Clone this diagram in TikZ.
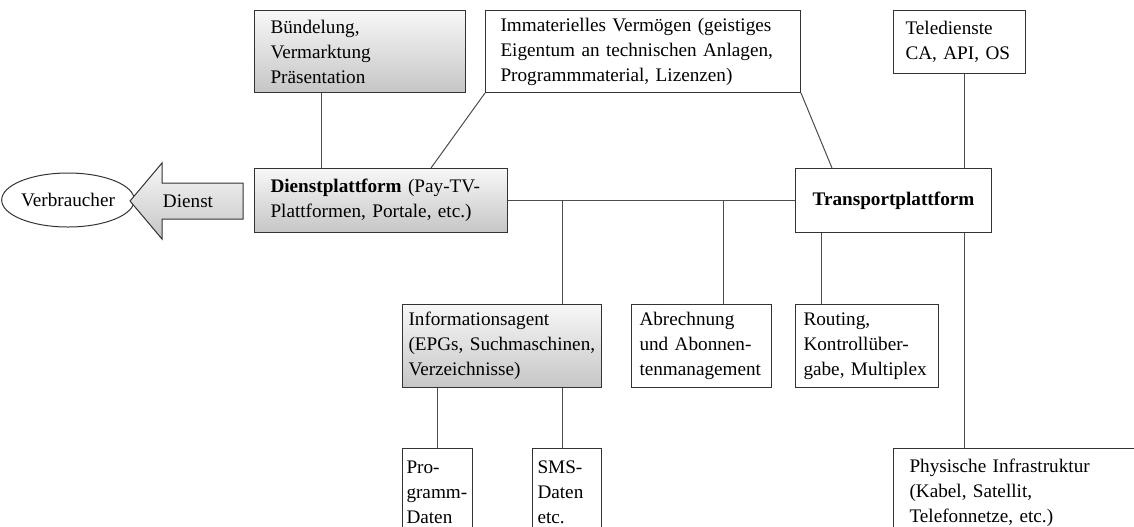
\documentclass[tikz,border=0pt]{standalone}
\usepackage{fontspec}
\setmainfont{Liberation Serif}
\usetikzlibrary{shapes.geometric}
\tikzset{
  box/.style={draw=black!80,line width=0.5pt,anchor=north west,align=left,inner ysep=0pt,font=\fontsize{9.6}{12.5}\selectfont},
  grau/.style={top color=gray!6,bottom color=gray!45},
  link/.style={draw=black!70,line width=0.5pt}
}
\begin{document}
\begin{tikzpicture}[x=0.5pt,y=-0.5pt]
\useasboundingbox (0,0) rectangle (1134,526);
\clip (0,0) rectangle (1134,526);
\coordinate (K1) at (321,0);
\coordinate (K2) at (431,0);
\coordinate (K3) at (562,0);
\coordinate (K4) at (723,0);
\coordinate (K5) at (821,0);
\coordinate (K6) at (832,0);
\coordinate (K7) at (964,0);
\node[box,grau,inner xsep=8pt,text width=89.5pt,minimum height=41pt] (buendel) at (254,10) {Bündelung,\\Vermarktung\\Präsentation};
\node[box,inner xsep=7.5pt,text width=142.5pt,minimum height=41pt] (immat) at (485,10) {Immaterielles Vermögen (geistiges\\Eigentum an technischen Anlagen,\\Programmmaterial, Lizenzen)};
\node[box,inner xsep=6pt,text width=54pt,minimum height=31.5pt] (tele) at (893,10) {Teledienste\\CA, API, OS};
\node[box,grau,inner xsep=8pt,text width=110.5pt,minimum height=32pt] (dienst) at (254,168) {\textbf{Dienstplattform} (Pay-TV-\\Plattformen, Portale, etc.)};
\node[box,align=center,inner xsep=0pt,text width=98pt,minimum height=32pt] (transport) at (795,168) {\textbf{Transportplattform}};
\node[box,grau,inner xsep=3pt,text width=93.5pt,minimum height=41.5pt] (info) at (402,304) {Informationsagent\\(EPGs, Suchmaschinen,\\Verzeichnisse)};
\node[box,inner xsep=4pt,text width=62pt,minimum height=41.5pt] (abrech) at (631,304) {Abrechnung\\und Abonnen-\\tenmanagement};
\node[box,inner xsep=4pt,text width=63.5pt,minimum height=41.5pt] (routing) at (795,304) {Routing,\\Kontrollüber-\\gabe, Multiplex};
\node[box,inner xsep=2pt,text width=31pt,minimum height=44pt] (prog) at (402,448) {Pro-\\gramm-\\Daten};
\node[box,inner xsep=2.5pt,text width=29.5pt,minimum height=44pt] (sms) at (532,448) {SMS-\\Daten\\etc.};
\node[box,inner xsep=8pt,text width=140pt,minimum height=44pt] (phys) at (893,448) {Physische Infrastruktur\\(Kabel, Satellit,\\Telefonnetze, etc.)};
\node[draw=black!80,line width=0.5pt,ellipse,inner sep=0pt,minimum width=60pt,minimum height=27pt,font=\fontsize{9.6}{12.5}\selectfont] (verbr) at (68,200) {Verbraucher};
\shadedraw[grau,draw=black!80,line width=0.5pt] (243,183) -- (162,183) -- (162,163) -- (130,201) -- (162,239) -- (162,219) -- (243,219) -- cycle;
\node[font=\fontsize{9.6}{12.5}\selectfont] (dienstpfeil) at (188,201) {Dienst};
\draw[link] (buendel.south -| K1) -- (dienst.north -| K1);
\draw[link] (immat.south west) -- (dienst.north -| K2);
\draw[link] (immat.south east) -- (transport.north -| K6);
\draw[link] (tele.south -| K7) -- (transport.north -| K7);
\draw[link] (dienst.east) -- (transport.west);
\draw[link] (dienst.east -| K3) -- (info.north -| K3);
\draw[link] (info.south -| K3) -- (sms.north -| K3);
\draw[link] (dienst.east -| K4) -- (abrech.north -| K4);
\draw[link] (transport.south -| K5) -- (routing.north -| K5);
\draw[link] (transport.south -| K7) -- (phys.north -| K7);
\draw[link] (info.south -| prog.north) -- (prog.north);
\end{tikzpicture}
\end{document}
